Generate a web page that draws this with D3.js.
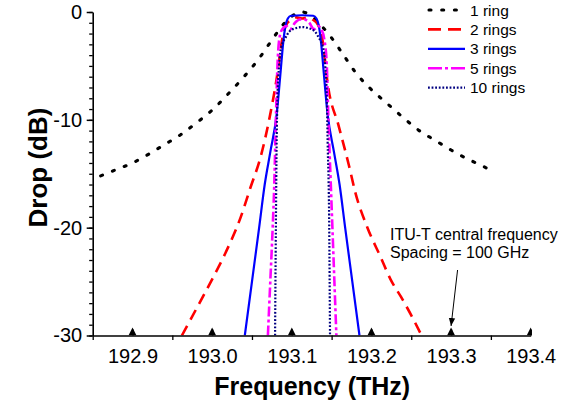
<!DOCTYPE html>
<html>
<head>
<meta charset="utf-8">
<script src="https://cdn.jsdelivr.net/npm/d3@7"></script>
<style>
  html, body { margin: 0; padding: 0; background: #fff; }
  svg { display: block; }
  text { font-family: Arial, "Liberation Sans", sans-serif; fill: #000; }
</style>
</head>
<body>
<svg id="chart" width="576" height="407"></svg>
<script>
// ---------- data ----------
const seriesNames = ["1 ring", "2 rings", "3 rings", "5 rings", "10 rings"];

const freq1 = [192.86, 192.88, 192.90, 192.92, 192.94, 192.96, 192.98, 193.00, 193.02, 193.04, 193.06, 193.075, 193.09, 193.10, 193.113, 193.125, 193.135, 193.15, 193.165, 193.18, 193.20, 193.22, 193.24, 193.26, 193.28, 193.30, 193.32, 193.34, 193.355];
const drop1 = [-15.2, -14.6, -14.0, -13.2, -12.3, -11.4, -10.3, -9.1, -7.6, -6.0, -4.2, -2.6, -1.1, -0.4, 0, -0.4, -1.1, -2.4, -4.0, -5.6, -7.2, -8.5, -9.8, -11.0, -11.9, -12.8, -13.6, -14.3, -14.9];

const freq2 = [192.962, 192.973, 193.002, 193.017, 193.036, 193.048, 193.061, 193.071, 193.082, 193.088, 193.093, 193.100, 193.106, 193.113, 193.120, 193.126, 193.133, 193.139, 193.145, 193.159, 193.172, 193.180, 193.195, 193.212, 193.224, 193.237, 193.252, 193.263];
const drop2 = [-30, -28.5, -24.5, -22.3, -19, -16.3, -13.4, -10.2, -5.7, -2.5, -1.2, -0.7, -0.5, -0.6, -0.5, -0.7, -1.2, -2.8, -6.6, -10.6, -14.3, -16.8, -20, -22.8, -24.8, -26.4, -28.4, -30];

const freq3 = [193.041, 193.050, 193.059, 193.066, 193.073, 193.081, 193.086, 193.089, 193.092, 193.095, 193.099, 193.113, 193.127, 193.131, 193.134, 193.137, 193.140, 193.145, 193.153, 193.160, 193.167, 193.176, 193.185];
const drop3 = [-30, -25, -20, -16, -13, -9.5, -5.5, -3, -1.3, -0.6, -0.35, -0.3, -0.35, -0.6, -1.3, -3, -5.5, -9.5, -13, -16, -20, -25, -30];

const freq5 = [193.070, 193.073, 193.076, 193.078, 193.080, 193.082, 193.085, 193.089, 193.093, 193.098, 193.104, 193.110, 193.116, 193.122, 193.128, 193.133, 193.137, 193.141, 193.144, 193.146, 193.149, 193.152, 193.156];
const drop5 = [-30, -25, -20, -16, -10, -5, -2.2, -1.5, -1.3, -1.6, -1.0, -0.7, -0.7, -1.0, -1.6, -1.3, -1.6, -2.6, -5, -10, -16, -22, -30];

const freq10 = [193.079, 193.080, 193.081, 193.082, 193.084, 193.087, 193.092, 193.097, 193.105, 193.113, 193.121, 193.129, 193.134, 193.139, 193.142, 193.144, 193.145, 193.147, 193.148];
const drop10 = [-30, -20, -12, -8, -5, -3.2, -2.4, -1.8, -1.5, -1.4, -1.5, -1.8, -2.4, -3.2, -5, -8, -12, -20, -30];

const xTickValues = [192.9, 193.0, 193.1, 193.2, 193.3, 193.4];
const xMinorTicks = [192.85, 192.95, 193.05, 193.15, 193.25, 193.35];
const yTickValues = [0, -10, -20, -30];
const yMinorTicks = d3.range(0, -31, -1);
const ituFrequencies = [192.9, 193.0, 193.1, 193.2, 193.3, 193.4];
const noteLines = ["ITU-T central frequency", "Spacing = 100 GHz"];
const noteTarget = 193.3;
const xTitle = "Frequency (THz)";
const yTitle = "Drop (dB)";

// ---------- layout ----------
const svg = d3.select("#chart");
const X0 = 92.7, X1 = 530.7, Y0 = 335.5, Y1 = 12;
const x = d3.scaleLinear().domain([192.85, 193.4]).range([X0, X1]);
const y = d3.scaleLinear().domain([-30, 0]).range([Y0, Y1]);

svg.append("rect").attr("width", 576).attr("height", 407).attr("fill", "#fff");

const defs = svg.append("defs");
defs.append("clipPath").attr("id", "plotClip")
  .append("rect").attr("x", X0).attr("y", Y1 - 3).attr("width", X1 - X0).attr("height", Y0 - Y1 + 3);
defs.append("clipPath").attr("id", "triClip")
  .append("rect").attr("x", X0).attr("y", Y1).attr("width", X1 - X0 + 0.8).attr("height", Y0 - Y1);

const styles = [
  { color: "#000000", width: 3.1, dash: "2 10.7", cap: "round" },
  { color: "#ff0000", width: 2.6, dash: "11 7", cap: "butt" },
  { color: "#0000ff", width: 2.2, dash: null, cap: "butt" },
  { color: "#ff00ff", width: 2.6, dash: "10 3 3 3", cap: "butt" },
  { color: "#000080", width: 2.2, dash: "1.8 1.8", cap: "butt" }
];
const seriesData = [
  [freq1, drop1], [freq2, drop2], [freq3, drop3], [freq5, drop5], [freq10, drop10]
];

const line = d3.line()
  .x(d => x(d[0])).y(d => y(d[1]))
  .curve(d3.curveMonotoneX);

const plot = svg.append("g").attr("clip-path", "url(#plotClip)");
seriesData.forEach((s, i) => {
  const pts = s[0].map((f, k) => [f, s[1][k]]);
  const st = styles[i];
  plot.append("path")
    .attr("d", line(pts))
    .attr("fill", "none")
    .attr("stroke", st.color)
    .attr("stroke-width", st.width)
    .attr("stroke-dasharray", st.dash)
    .attr("stroke-linecap", st.cap)
    .attr("stroke-linejoin", "round");
});

// ---------- axes ----------
const fmtX = d3.format(".1f");

svg.append("g").attr("transform", `translate(${X0},0)`)
  .call(d3.axisLeft(y).tickValues(yMinorTicks).tickSize(3.5).tickFormat(""))
  .call(g => g.select(".domain").remove())
  .call(g => g.selectAll("line").attr("stroke-width", 1.3));

svg.append("g").attr("transform", `translate(${X0},0)`)
  .call(d3.axisLeft(y).tickValues(yTickValues).tickSize(6).tickSizeOuter(0).tickPadding(4.5)
    .tickFormat(d => String(d)))
  .call(g => g.select(".domain").attr("stroke-width", 1.6))
  .call(g => g.selectAll("line").attr("stroke-width", 1.5))
  .call(g => g.selectAll("text").attr("font-size", 20).attr("font-family", "Arial, 'Liberation Sans', sans-serif"));

svg.append("g").attr("transform", `translate(0,${Y0})`)
  .call(d3.axisBottom(x).tickValues(xMinorTicks).tickSize(4.5).tickFormat(""))
  .call(g => g.select(".domain").remove())
  .call(g => g.selectAll("line").attr("stroke-width", 1.3));

svg.append("g").attr("transform", `translate(0,${Y0})`)
  .call(d3.axisBottom(x).tickValues(xTickValues).tickSize(-6).tickSizeOuter(0).tickPadding(13.5).tickFormat(fmtX))
  .call(g => g.select(".domain").attr("stroke-width", 1.6))
  .call(g => g.selectAll("line").attr("stroke-width", 1.5))
  .call(g => g.selectAll("text").attr("font-size", 20).attr("font-family", "Arial, 'Liberation Sans', sans-serif"));

// ITU grid triangles
svg.append("g").attr("clip-path", "url(#triClip)")
  .selectAll("path").data(ituFrequencies).join("path")
  .attr("d", "M0,-8 L4,0 L-4,0 Z")
  .attr("transform", d => `translate(${x(d)},${Y0})`)
  .attr("fill", "#000");

// axis titles
svg.append("text")
  .attr("x", (X0 + X1) / 2 + 0.5).attr("y", 395)
  .attr("text-anchor", "middle")
  .attr("font-size", 25).attr("font-weight", "bold")
  .text(xTitle);

svg.append("text")
  .attr("transform", "translate(47,167.5) rotate(-90)")
  .attr("text-anchor", "middle")
  .attr("font-size", 26).attr("font-weight", "bold")
  .text(yTitle);

// ---------- legend ----------
const legend = svg.append("g");
const legY0 = 10, legDy = 19.4;
seriesNames.forEach((name, i) => {
  const st = styles[i];
  const yy = legY0 + i * legDy;
  legend.append("line")
    .attr("x1", i === 0 ? 429 : 428).attr("x2", 465)
    .attr("y1", yy).attr("y2", yy)
    .attr("stroke", st.color)
    .attr("stroke-width", st.width)
    .attr("stroke-dasharray", i === 1 ? "13 7" : (i === 3 ? "14 3 3 3" : st.dash))
    .attr("stroke-linecap", st.cap);
  legend.append("text")
    .attr("x", 470).attr("y", yy)
    .attr("dy", "0.36em")
    .attr("font-size", 15.5)
    .text(name);
});

// ---------- annotation ----------
const note = svg.append("g");
noteLines.forEach((t, i) => {
  note.append("text")
    .attr("x", 390).attr("y", 240 + i * 18.3)
    .attr("font-size", 16)
    .text(t);
});
defs.append("marker")
  .attr("id", "arrowHead").attr("viewBox", "0 0 10 10")
  .attr("refX", 10).attr("refY", 5)
  .attr("markerWidth", 8).attr("markerHeight", 8)
  .attr("markerUnits", "userSpaceOnUse")
  .attr("orient", "auto")
  .append("path").attr("d", "M0,1 L10,5 L0,9 Z").attr("fill", "#000");
note.append("line")
  .attr("x1", x(noteTarget) + 6.5).attr("y1", 270)
  .attr("x2", x(noteTarget)).attr("y2", 326)
  .attr("stroke", "#000").attr("stroke-width", 1)
  .attr("marker-end", "url(#arrowHead)");
</script>
</body>
</html>
